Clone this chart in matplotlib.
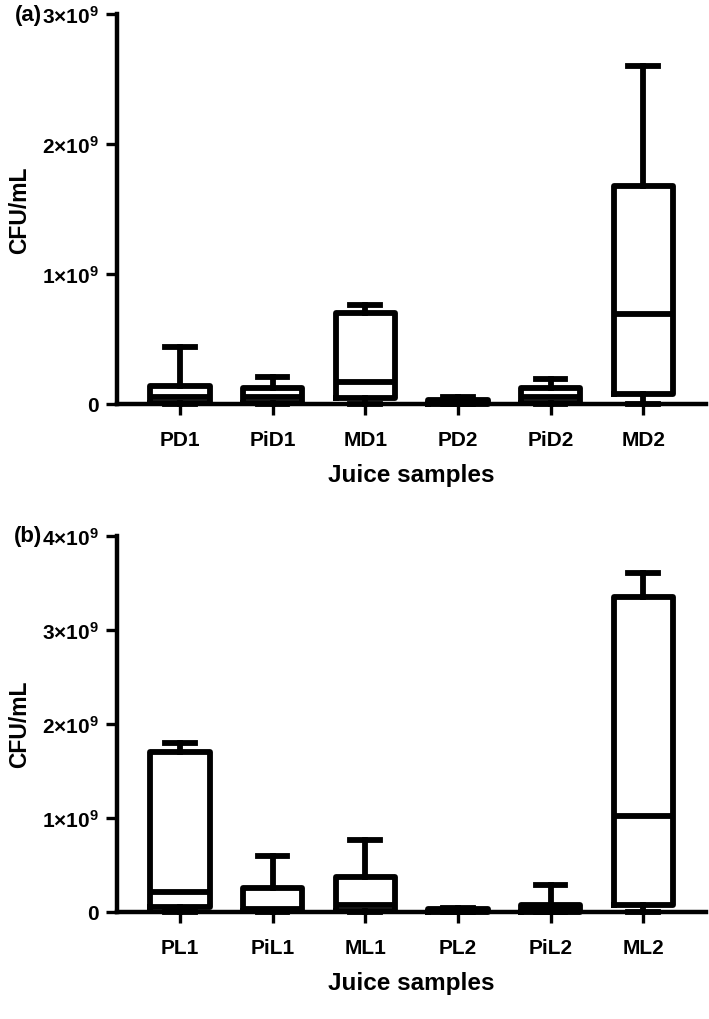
import matplotlib
matplotlib.use("Agg")
import matplotlib.pyplot as plt

plt.rcParams["font.family"] = ["Liberation Sans", "DejaVu Sans"]
plt.rcParams["font.weight"] = "bold"
plt.rcParams["mathtext.fontset"] = "custom"
plt.rcParams["mathtext.rm"] = "Liberation Sans:bold"
plt.rcParams["mathtext.bf"] = "Liberation Sans:bold"

# panel (a): dark juices, values in units of 1e9 CFU/mL
labels_a = ["PD1", "PiD1", "MD1", "PD2", "PiD2", "MD2"]
min_a = [0.0, 0.0, 0.0, 0.0, 0.0, 0.0]
q1_a = [0.01, 0.01, 0.045, 0.0, 0.01, 0.08]
med_a = [0.05, 0.05, 0.17, 0.01, 0.05, 0.69]
q3_a = [0.14, 0.12, 0.70, 0.03, 0.12, 1.68]
max_a = [0.44, 0.21, 0.76, 0.05, 0.19, 2.60]

# panel (b): light juices
labels_b = ["PL1", "PiL1", "ML1", "PL2", "PiL2", "ML2"]
min_b = [0.0, 0.0, 0.0, 0.0, 0.0, 0.0]
q1_b = [0.05, 0.01, 0.01, 0.0, 0.0, 0.07]
med_b = [0.21, 0.03, 0.07, 0.01, 0.03, 1.02]
q3_b = [1.70, 0.25, 0.37, 0.03, 0.07, 3.35]
max_b = [1.80, 0.59, 0.76, 0.04, 0.29, 3.60]

yticks_a = [0, 1, 2, 3]
yticks_b = [0, 1, 2, 3, 4]


def tick_label(v):
    if v == 0:
        return "0"
    return r"$\mathbf{%d{\times}10^{9}}$" % v


def draw_panel(ax, labels, mins, q1s, meds, q3s, maxs, yticks, tag):
    stats = []
    for lab, lo, q1, med, q3, hi in zip(labels, mins, q1s, meds, q3s, maxs):
        stats.append({"label": lab, "whislo": lo * 1e9, "q1": q1 * 1e9, "med": med * 1e9,
                      "q3": q3 * 1e9, "whishi": hi * 1e9, "fliers": []})
    lw = 4.2
    ax.bxp(stats, positions=range(len(stats)), widths=0.64, capwidths=0.32,
           showfliers=False,
           boxprops=dict(linewidth=lw, color="black"),
           medianprops=dict(linewidth=lw, color="black"),
           whiskerprops=dict(linewidth=lw, color="black"),
           capprops=dict(linewidth=lw, color="black"),
           manage_ticks=False)
    for art in ax.lines + ax.patches:
        art.set_clip_on(False)
    ax.set_xlim(-0.68, len(stats) - 0.32)
    ax.set_ylim(0, yticks[-1] * 1e9)
    ax.set_xticks(range(len(stats)))
    ax.set_xticklabels(labels, fontsize=15, fontweight="bold")
    ax.set_yticks([t * 1e9 for t in yticks])
    ax.set_yticklabels([tick_label(t) for t in yticks], fontsize=15)
    for s in ["top", "right"]:
        ax.spines[s].set_visible(False)
    for s in ["left", "bottom"]:
        ax.spines[s].set_linewidth(3.2)
    ax.tick_params(axis="both", length=8, width=2.4, pad=5)
    ax.tick_params(axis="x", pad=11)
    ax.set_xlabel("Juice samples", fontsize=17.5, fontweight="bold", labelpad=10)
    ax.set_ylabel("CFU/mL", fontsize=16.5, fontweight="bold", labelpad=8)
    ax.text(-0.127, 1.0, tag, transform=ax.transAxes, fontsize=16, fontweight="bold",
            ha="right", va="center")


fig = plt.figure(figsize=(7.09, 10.20), dpi=100)
ax_a = fig.add_axes([0.165, 0.603, 0.831, 0.382])
ax_b = fig.add_axes([0.165, 0.105, 0.831, 0.369])

draw_panel(ax_a, labels_a, min_a, q1_a, med_a, q3_a, max_a, yticks_a, "(a)")
draw_panel(ax_b, labels_b, min_b, q1_b, med_b, q3_b, max_b, yticks_b, "(b)")

fig.savefig("out.png", dpi=100, facecolor="white")
